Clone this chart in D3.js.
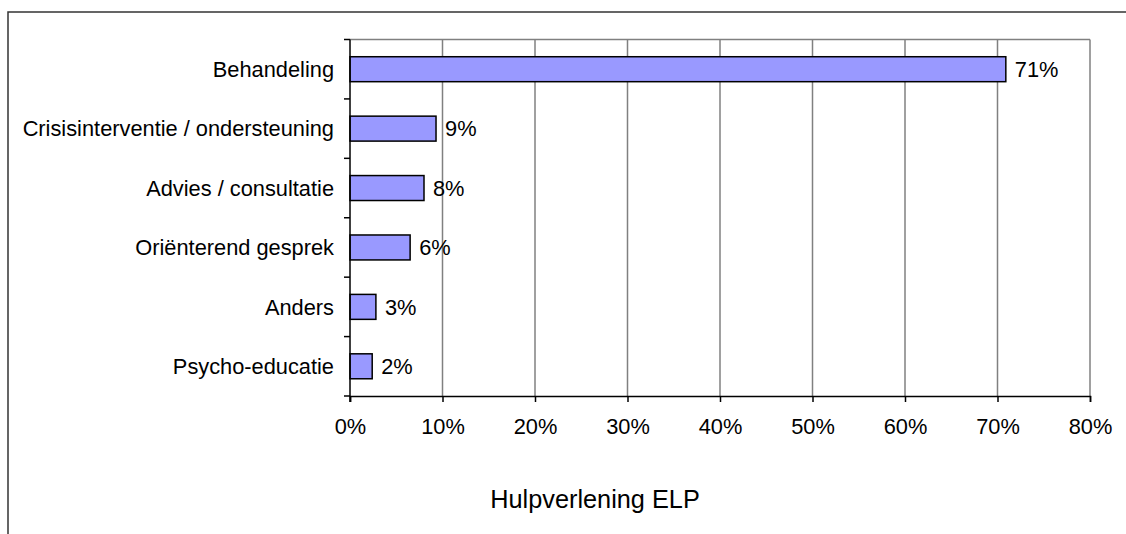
<!DOCTYPE html>
<html>
<head>
<meta charset="utf-8">
<script src="https://cdn.jsdelivr.net/npm/d3@7"></script>
<style>
  html, body { margin: 0; padding: 0; background: #fff; }
  svg { display: block; }
  text { font-family: "Liberation Sans", Arial, sans-serif; fill: #000; }
</style>
</head>
<body>
<svg id="chart" width="1126" height="534"></svg>
<script>
const categories = ["Behandeling", "Crisisinterventie / ondersteuning", "Advies / consultatie", "Oriënterend gesprek", "Anders", "Psycho-educatie"];
const values = [70.9, 9.3, 8.0, 6.5, 2.8, 2.4];
const valueLabels = ["71%", "9%", "8%", "6%", "3%", "2%"];
const xTicks = [0, 10, 20, 30, 40, 50, 60, 70, 80];
const title = "Hulpverlening ELP";

const svg = d3.select("#chart");
const W = 1126, H = 534;
const plot = { left: 350, top: 39.5, right: 1090, bottom: 396 };

// outer frame
svg.append("rect")
  .attr("x", 8).attr("y", 12)
  .attr("width", W + 20).attr("height", H + 20)
  .attr("fill", "none").attr("stroke", "#333").attr("stroke-width", 1.5);

const x = d3.scaleLinear().domain([0, 80]).range([plot.left, plot.right]);
const y = d3.scaleBand().domain(categories).range([plot.top, plot.bottom]).paddingInner(0.58).paddingOuter(0.29);
const yOuter = d3.scaleBand().domain(categories).range([plot.top, plot.bottom]);

// gridlines
svg.append("g").selectAll("line").data(xTicks.filter(d => d > 0)).join("line")
  .attr("x1", d => x(d)).attr("x2", d => x(d))
  .attr("y1", plot.top).attr("y2", plot.bottom)
  .attr("stroke", "#808080").attr("stroke-width", 1.5);
// top border of plot
svg.append("line")
  .attr("x1", plot.left).attr("x2", plot.right)
  .attr("y1", plot.top).attr("y2", plot.top)
  .attr("stroke", "#808080").attr("stroke-width", 1.5);

// bars
svg.append("g").selectAll("rect").data(categories).join("rect")
  .attr("x", x(0))
  .attr("y", (d) => y(d))
  .attr("width", (d, i) => x(values[i]) - x(0))
  .attr("height", y.bandwidth())
  .attr("fill", "#9999FF")
  .attr("stroke", "#000").attr("stroke-width", 1.5);

// value labels
svg.append("g").selectAll("text").data(categories).join("text")
  .attr("x", (d, i) => x(values[i]) + 9)
  .attr("y", d => y(d) + y.bandwidth() / 2)
  .attr("dy", "0.36em")
  .attr("font-size", "21.8px")
  .text((d, i) => valueLabels[i]);

// y axis
const yAxisG = svg.append("g");
yAxisG.append("line")
  .attr("x1", plot.left).attr("x2", plot.left)
  .attr("y1", plot.top).attr("y2", plot.bottom + 6)
  .attr("stroke", "#000").attr("stroke-width", 1.5);
const bounds = categories.map(c => yOuter(c)).concat([plot.bottom]);
yAxisG.selectAll("line.tick").data(bounds).join("line").attr("class", "tick")
  .attr("x1", plot.left - 6).attr("x2", plot.left)
  .attr("y1", d => d).attr("y2", d => d)
  .attr("stroke", "#000").attr("stroke-width", 1.5);
yAxisG.selectAll("text").data(categories).join("text")
  .attr("x", 334)
  .attr("y", d => yOuter(d) + yOuter.bandwidth() / 2)
  .attr("dy", "0.36em")
  .attr("text-anchor", "end")
  .attr("font-size", "21.8px")
  .text(d => d);

// x axis
const xAxis = d3.axisBottom(x).tickValues(xTicks).tickSize(6).tickPadding(17).tickFormat(d => d + "%");
const xg = svg.append("g").attr("transform", `translate(0,${plot.bottom})`).call(xAxis);
xg.select(".domain").attr("stroke", "#000").attr("stroke-width", 1.5);
xg.selectAll(".tick line").attr("stroke", "#000").attr("stroke-width", 1.5);
xg.selectAll(".tick text").attr("font-size", "21.8px").attr("font-family", "Liberation Sans, Arial, sans-serif").attr("fill", "#000");

// title
svg.append("text")
  .attr("x", 595).attr("y", 508)
  .attr("text-anchor", "middle")
  .attr("font-size", "25.3px")
  .text(title);
</script>
</body>
</html>
